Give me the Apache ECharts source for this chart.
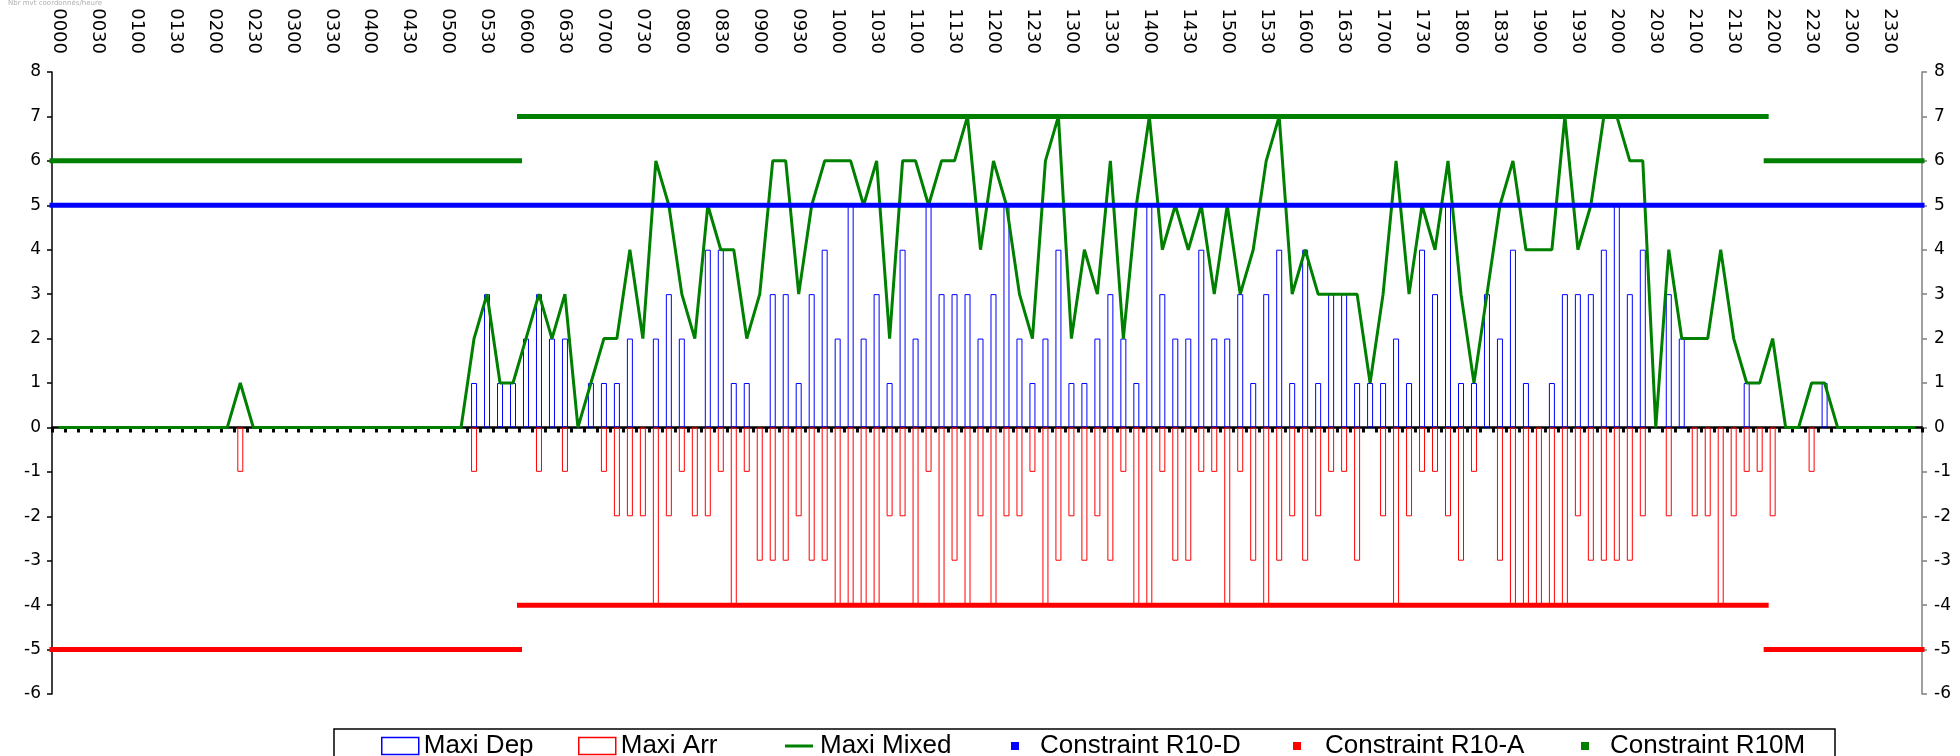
<!DOCTYPE html>
<html>
<head>
<meta charset="utf-8">
<title>Maxi mouvements</title>
<script src="https://cdn.jsdelivr.net/npm/echarts/dist/echarts.min.js"></script>
<style>
  html, body { margin: 0; padding: 0; background: #fff; }
  #chart { width: 1960px; height: 756px; }
</style>
</head>
<body>
<div id="chart"></div>
<script>
// 10 minute slots over the day
var timeLabels = [
  "0000","0010","0020","0030","0040","0050","0100","0110","0120","0130","0140","0150",
  "0200","0210","0220","0230","0240","0250","0300","0310","0320","0330","0340","0350",
  "0400","0410","0420","0430","0440","0450","0500","0510","0520","0530","0540","0550",
  "0600","0610","0620","0630","0640","0650","0700","0710","0720","0730","0740","0750",
  "0800","0810","0820","0830","0840","0850","0900","0910","0920","0930","0940","0950",
  "1000","1010","1020","1030","1040","1050","1100","1110","1120","1130","1140","1150",
  "1200","1210","1220","1230","1240","1250","1300","1310","1320","1330","1340","1350",
  "1400","1410","1420","1430","1440","1450","1500","1510","1520","1530","1540","1550",
  "1600","1610","1620","1630","1640","1650","1700","1710","1720","1730","1740","1750",
  "1800","1810","1820","1830","1840","1850","1900","1910","1920","1930","1940","1950",
  "2000","2010","2020","2030","2040","2050","2100","2110","2120","2130","2140","2150",
  "2200","2210","2220","2230","2240","2250","2300","2310","2320","2330","2340","2350"
];

var maxiDep = [
  0,0,0,0,0,0,0,0,0,0,0,0,
  0,0,0,0,0,0,0,0,0,0,0,0,
  0,0,0,0,0,0,0,0,1,3,1,1,
  2,3,2,2,0,1,1,1,2,0,2,3,
  2,0,4,4,1,1,0,3,3,1,3,4,
  2,5,2,3,1,4,2,5,3,3,3,2,
  3,5,2,1,2,4,1,1,2,3,2,1,
  5,3,2,2,4,2,2,3,1,3,4,1,
  4,1,3,3,1,1,1,2,1,4,3,5,
  1,1,3,2,4,1,0,1,3,3,3,4,
  5,3,4,0,3,2,0,0,0,0,1,0,
  0,0,0,0,1,0,0,0,0,0,0,0
];

var maxiArr = [
  0,0,0,0,0,0,0,0,0,0,0,0,
  0,0,-1,0,0,0,0,0,0,0,0,0,
  0,0,0,0,0,0,0,0,-1,0,0,0,
  0,-1,0,-1,0,0,-1,-2,-2,-2,-4,-2,
  -1,-2,-2,-1,-4,-1,-3,-3,-3,-2,-3,-3,
  -4,-4,-4,-4,-2,-2,-4,-1,-4,-3,-4,-2,
  -4,-2,-2,-1,-4,-3,-2,-3,-2,-3,-1,-4,
  -4,-1,-3,-3,-1,-1,-4,-1,-3,-4,-3,-2,
  -3,-2,-1,-1,-3,0,-2,-4,-2,-1,-1,-2,
  -3,-1,0,-3,-4,-4,-4,-4,-4,-2,-3,-3,
  -3,-3,-2,0,-2,0,-2,-2,-4,-2,-1,-1,
  -2,0,0,-1,0,0,0,0,0,0,0,0
];

var maxiMixed = [
  0,0,0,0,0,0,0,0,0,0,0,0,
  0,0,1,0,0,0,0,0,0,0,0,0,
  0,0,0,0,0,0,0,0,2,3,1,1,
  2,3,2,3,0,1,2,2,4,2,6,5,
  3,2,5,4,4,2,3,6,6,3,5,6,
  6,6,5,6,2,6,6,5,6,6,7,4,
  6,5,3,2,6,7,2,4,3,6,2,5,
  7,4,5,4,5,3,5,3,4,6,7,3,
  4,3,3,3,3,1,3,6,3,5,4,6,
  3,1,3,5,6,4,4,4,7,4,5,7,
  7,6,6,0,4,2,2,2,4,2,1,1,
  2,0,0,1,1,0,0,0,0,0,0,0
];

// constraint levels: [from slot, to slot, value]
var r10dSegments = [[0, 144, 5]];
var r10aSegments = [[0, 36, -5], [36, 132, -4], [132, 144, -5]];
var r10mSegments = [[0, 36, 6], [36, 132, 7], [132, 144, 6]];

var yMin = -6;
var yMax = 8;

var BLUE = "#0000ff";
var RED = "#ff0000";
var GREEN = "#008000";
var AXIS_FONT = "DejaVu Sans";
var LEGEND_FONT = "Liberation Sans";

function barData(arr) {
  return arr.map(function (v) { return v === 0 ? "-" : v; });
}

function constraintSeries(name, segments, color) {
  return segments.map(function (s) {
    return {
      name: name,
      type: "line",
      xAxisIndex: 2,
      yAxisIndex: 0,
      data: [[s[0], s[2]], [s[1], s[2]]],
      symbol: "none",
      clip: false,
      silent: true,
      lineStyle: { color: color, width: 5, cap: "square" },
      itemStyle: { color: color },
      animation: false,
      z: 4,
    };
  });
}

function oneLegend(name, left, icon, w, h, style, textPad) {
  return {
    data: [{ name: name, icon: icon, itemStyle: style }],
    left: left,
    top: 733,
    orient: "horizontal",
    itemWidth: w,
    itemHeight: h,
    padding: 0,
    selectedMode: false,
    textStyle: {
      fontFamily: LEGEND_FONT,
      fontSize: 26,
      color: "#000",
      padding: [0, 0, 0, textPad],
    },
  };
}

var chart = echarts.init(document.getElementById("chart"), null, { renderer: "canvas" });

var series = [
  {
    name: "Maxi Dep",
    type: "bar",
    xAxisIndex: 0,
    yAxisIndex: 0,
    data: barData(maxiDep),
    barWidth: 6,
    barGap: "-100%",
    itemStyle: { color: "rgba(255,255,255,0)", borderColor: BLUE, borderWidth: 1 },
    animation: false,
    z: 2,
  },
  {
    name: "Maxi Arr",
    type: "bar",
    xAxisIndex: 0,
    yAxisIndex: 0,
    data: barData(maxiArr),
    barWidth: 6,
    barGap: "-100%",
    itemStyle: { color: "rgba(255,255,255,0)", borderColor: RED, borderWidth: 1 },
    animation: false,
    z: 2,
  },
  {
    name: "Maxi Mixed",
    type: "line",
    xAxisIndex: 0,
    yAxisIndex: 0,
    data: maxiMixed,
    symbol: "none",
    lineStyle: { color: GREEN, width: 3 },
    itemStyle: { color: GREEN },
    animation: false,
    z: 3,
  },
]
  .concat(constraintSeries("Constraint R10-D", r10dSegments, BLUE))
  .concat(constraintSeries("Constraint R10-A", r10aSegments, RED))
  .concat(constraintSeries("Constraint R10M", r10mSegments, GREEN));

chart.setOption({
  backgroundColor: "#fff",
  animation: false,
  grid: { left: 52, right: 38, top: 72, bottom: 62, containLabel: false },
  graphic: [
    {
      type: "text",
      left: 8,
      top: 0,
      style: { text: "Nbr mvt coordonnés/heure", font: "7px " + AXIS_FONT, fill: "#b0b0b0" },
    },
    {
      type: "rect",
      shape: { x: 334, y: 729, width: 1501, height: 60 },
      style: { fill: "none", stroke: "#000", lineWidth: 1.5 },
      z: 0,
    },
  ],
  legend: [
    oneLegend("Maxi Dep", 381, "rect", 37, 17, { color: "#fff", borderColor: BLUE, borderWidth: 1.5 }, 0),
    oneLegend("Maxi Arr", 578, "rect", 37, 17, { color: "#fff", borderColor: RED, borderWidth: 1.5 }, 0),
    oneLegend("Maxi Mixed", 785, "rect", 28, 3, { color: GREEN }, 2),
    oneLegend("Constraint R10-D", 1011, "rect", 8, 8, { color: BLUE }, 16),
    oneLegend("Constraint R10-A", 1293, "rect", 8, 8, { color: RED }, 19),
    oneLegend("Constraint R10M", 1581, "rect", 8, 8, { color: GREEN }, 16),
  ],
  xAxis: [
    {
      type: "category",
      data: timeLabels,
      position: "bottom",
      boundaryGap: true,
      axisLine: { show: true, onZero: true, onZeroAxisIndex: 0, lineStyle: { color: "#000", width: 2.5 } },
      axisTick: { show: true, interval: 0, length: 5, lineStyle: { color: "#000", width: 3 } },
      axisLabel: { show: false },
      splitLine: { show: false },
    },
    {
      type: "category",
      data: timeLabels,
      position: "top",
      boundaryGap: true,
      axisLine: { show: false, onZero: false },
      axisTick: { show: false },
      axisLabel: {
        show: true,
        interval: 2,
        rotate: 90,
        margin: 18,
        fontFamily: AXIS_FONT,
        fontSize: 18,
        color: "#000",
      },
      splitLine: { show: false },
    },
    {
      type: "value",
      min: 0,
      max: 144,
      show: false,
      axisLine: { onZero: false },
    },
  ],
  yAxis: [
    {
      type: "value",
      position: "left",
      min: yMin,
      max: yMax,
      interval: 1,
      axisLine: { show: true, onZero: false, lineStyle: { color: "#000", width: 1.5 } },
      axisTick: { show: true, length: 5, lineStyle: { color: "#000", width: 1.5 } },
      axisLabel: { margin: 11, fontFamily: AXIS_FONT, fontSize: 17, color: "#000" },
      splitLine: { show: false },
    },
    {
      type: "value",
      position: "right",
      min: yMin,
      max: yMax,
      interval: 1,
      axisLine: { show: true, onZero: false, lineStyle: { color: "#808080", width: 1.5 } },
      axisTick: { show: true, length: 5, lineStyle: { color: "#808080", width: 1.5 } },
      axisLabel: { margin: 12, fontFamily: AXIS_FONT, fontSize: 17, color: "#000" },
      splitLine: { show: false },
    },
  ],
  series: series,
});
</script>
</body>
</html>
